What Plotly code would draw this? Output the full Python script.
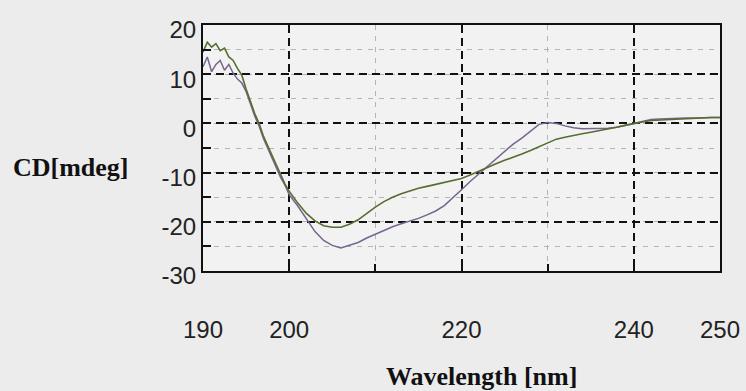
import plotly.graph_objects as go

# Wavelength (nm) and CD (mdeg) for the two spectra
wl_green = [190, 190.5, 191, 191.5, 192, 192.5, 193, 193.5, 194, 194.5, 195, 195.5, 196, 196.5,
            197, 197.5, 198, 198.5, 199, 199.5, 200, 201, 202, 203, 204, 205, 206, 207, 208, 209,
            210, 211, 212, 213, 214, 215, 216, 217, 218, 219, 220, 221, 222, 223, 224, 225, 226,
            227, 228, 229, 230, 231, 232, 233, 234, 235, 236, 237, 238, 239, 240, 241, 242, 243,
            244, 245, 246, 247, 248, 249, 250]
cd_green = [14.5, 16.5, 15.5, 16.2, 14.8, 15.3, 13.5, 12.8, 11.2, 9.8, 7.0, 4.5, 2.0, 0.0,
            -2.5, -4.5, -6.5, -8.5, -10.5, -12.3, -13.8, -16.2, -18.3, -19.8, -20.8, -21.1, -21.1,
            -20.5, -19.6, -18.3, -17.0, -15.9, -15.0, -14.3, -13.7, -13.2, -12.8, -12.4, -12.0,
            -11.6, -11.2, -10.5, -9.7, -8.9, -8.2, -7.5, -6.9, -6.2, -5.5, -4.7, -3.9, -3.2, -2.8,
            -2.4, -2.1, -1.8, -1.5, -1.2, -0.8, -0.4, 0.0, 0.3, 0.6, 0.7, 0.8, 0.9, 1.0, 1.1, 1.1,
            1.2, 1.2]

wl_purple = wl_green
cd_purple = [11.5, 13.5, 10.5, 12.0, 12.8, 10.8, 12.0, 10.2, 9.0, 8.2, 6.5, 4.0, 1.5, -0.5,
             -3.0, -5.0, -7.0, -9.0, -11.0, -12.5, -14.5, -16.8, -19.5, -22.0, -23.8, -24.8,
             -25.3, -24.8, -24.2, -23.3, -22.5, -21.8, -21.0, -20.4, -19.9, -19.3, -18.6, -17.8,
             -16.7, -15.2, -13.5, -11.8, -10.3, -8.8, -7.2, -5.6, -4.2, -3.0, -1.6, -0.2, 0.2,
             0.0, -0.5, -0.9, -1.1, -1.1, -1.1, -1.0, -0.8, -0.4, 0.1, 0.5, 0.8, 0.9, 1.0, 1.0,
             1.1, 1.1, 1.2, 1.2, 1.2]

x_ticks = [190, 200, 220, 240, 250]
x_minor = [210, 230]
y_ticks = [-30, -20, -10, 0, 10, 20]

PAPER = "#ececec"
tick_font = dict(family="Liberation Sans, Arial, sans-serif", size=24, color="#222222")
title_font = dict(family="Liberation Serif, Times New Roman, serif", size=26, color="#111111")

fig = go.Figure()
fig.add_trace(go.Scatter(x=wl_purple, y=cd_purple, mode="lines",
                         line=dict(color="#76658f", width=1.5), showlegend=False))
fig.add_trace(go.Scatter(x=wl_green, y=cd_green, mode="lines",
                         line=dict(color="#566d30", width=1.6), showlegend=False))

fig.update_layout(
    width=746, height=391, autosize=False,
    margin=dict(l=203, r=26, t=25, b=120, autoexpand=False),
    paper_bgcolor=PAPER, plot_bgcolor="#f2f2f2",
    showlegend=False,
)
fig.update_xaxes(
    range=[190, 250], tickvals=x_ticks, ticktext=[str(v) for v in x_ticks],
    showgrid=True, gridcolor="#111111", gridwidth=2, griddash="8px,5px",
    showline=True, linecolor="#111111", linewidth=2, mirror=True,
    ticks="inside", ticklen=7, tickcolor="#111111", tickwidth=2,
    tickfont=tick_font, ticklabelstandoff=36, zeroline=False, automargin=False,
    minor=dict(tickvals=x_minor, showgrid=True, gridcolor="#b5b5b5", gridwidth=1,
               griddash="5px,6px", ticks="inside", ticklen=7, tickcolor="#111111", tickwidth=2),
)
fig.update_yaxes(
    range=[-30, 20], tickvals=y_ticks, ticktext=[str(v) for v in y_ticks],
    showgrid=True, gridcolor="#111111", gridwidth=2, griddash="8px,5px",
    showline=True, linecolor="#111111", linewidth=2, mirror=True,
    ticks="inside", ticklen=8, tickcolor="#111111", tickwidth=2,
    tickfont=tick_font, ticklabelstandoff=0, ticklabelshift=5, zeroline=False, automargin=False,
    minor=dict(dtick=5, tick0=0, showgrid=True, gridcolor="#b5b5b5", gridwidth=1,
               griddash="5px,6px", ticks="inside", ticklen=8, tickcolor="#111111", tickwidth=2),
)

fig.add_annotation(text="<b>CD[mdeg]</b>", xref="paper", yref="paper", x=-0.255, y=0.419,
                   xanchor="center", yanchor="middle", showarrow=False, font=title_font)
fig.add_annotation(text="<b>Wavelength [nm]</b>", xref="paper", yref="paper", x=0.538, y=-0.428,
                   xanchor="center", yanchor="middle", showarrow=False, font=title_font)

fig.write_html(
    "out.html",
    config={"displayModeBar": False},
    post_script=f"document.body.style.margin='0';document.body.style.background='{PAPER}';",
)
